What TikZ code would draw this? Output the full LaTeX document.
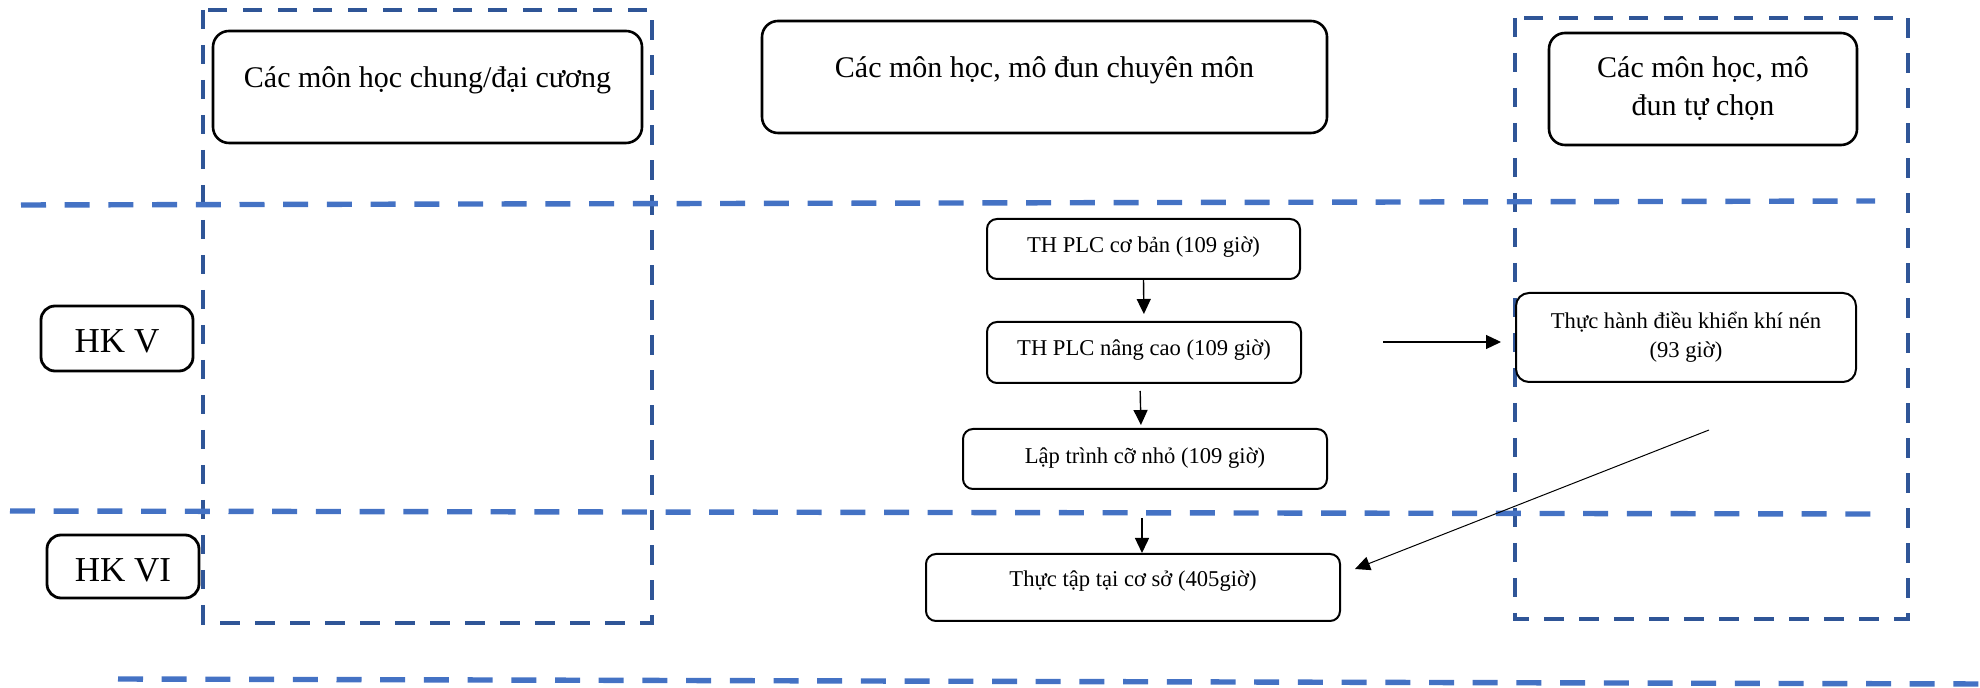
\documentclass[tikz,border=0pt]{standalone}
\usepackage{fontspec}
\setmainfont{Liberation Serif}
\usetikzlibrary{arrows.meta}
\definecolor{lblue}{HTML}{4472C4}
\definecolor{dblue}{HTML}{2F5597}
\begin{document}
\begin{tikzpicture}[x=0.5pt,y=-0.5pt,
  hbox/.style={draw=black, line width=1.3pt, rounded corners=8pt, inner sep=0pt, align=center,
               minimum height=56pt, font=\fontsize{15}{19}\selectfont},
  hkbox/.style={draw=black, line width=1.4pt, rounded corners=7pt, inner sep=0pt,
               minimum width=76pt, text depth=0pt, font=\fontsize{17.5}{21}\selectfont},
  cbox/.style={draw=black, line width=1pt, rounded corners=5pt, inner sep=0pt, align=center,
               font=\fontsize{11.3}{14.25}\selectfont},
  arr/.style={line width=0.7pt, -{Triangle[length=7.5pt,width=7pt]}},
  lline/.style={lblue, line width=2.7pt, dash pattern=on 12.5pt off 9.35pt},
  dbox/.style={dblue, line width=2.4pt, dash pattern=on 9.75pt off 7.75pt}]
\useasboundingbox (0,0) rectangle (1980,688);

% dark dashed column frames
\draw[dbox] (203,10) rectangle (652,623);
\draw[dbox] (1515,18) rectangle (1908,619);

% light dashed semester separators
\draw[lline] (21,205) -- (1875,201);
\draw[lline] (10,511) -- (1872,514);
\draw[lline] (118,679) -- (1984,684);

% headers
\node[hbox, minimum width=214.5pt, text height=10pt, text depth=9pt] (h1) at (427.5,87) {Các môn học chung/đại cương};
\node[hbox, minimum width=282.5pt, text height=10pt, text depth=9pt] (h2) at (1044.5,77) {Các môn học, mô đun chuyên môn};
\node[hbox, minimum width=154pt] (h3) at (1703,89) {Các môn học, mô\\đun tự chọn};

% semester labels
\node[hkbox, minimum height=32.5pt, text height=14pt] (hk5) at (117,338.5) {HK V};
\node[hkbox, minimum height=31.5pt, text height=15pt] (hk6) at (123,566.5) {HK VI};

% course boxes
\node[cbox, minimum width=156.5pt, minimum height=30pt, text height=8pt, text depth=4pt] (b1) at (1143.5,249) {TH PLC cơ bản (109 giờ)};
\node[cbox, minimum width=157pt, minimum height=30.5pt, text height=7.75pt, text depth=4.25pt] (b2) at (1144,352.5) {TH PLC nâng cao (109 giờ)};
\node[cbox, minimum width=182pt, minimum height=30pt, text height=8pt, text depth=3.75pt] (b3) at (1145,459) {Lập trình cỡ nhỏ (109 giờ)};
\node[cbox, minimum width=207pt, minimum height=33.5pt, text height=6pt, text depth=6.5pt] (b4) at (1133,587.5) {Thực tập tại cơ sở (405giờ)};
\node[cbox, rounded corners=6.5pt, minimum width=170pt, minimum height=44.5pt] (b5) at (1686,337.5) {Thực hành điều khiển khí nén\\(93 giờ)};

% connectors
\coordinate (a3s) at (1142,518);
\coordinate (h0) at (1383,342);
\coordinate (d0) at (1709,430);
\draw[arr, shorten >=3.5pt] (b1.south) -- (b2.north);
\draw[arr, shorten <=3.5pt, shorten >=1.5pt] ([xshift=-2pt]b2.south) -- ([xshift=-2pt]b3.north);
\draw[arr] (a3s) -- (a3s |- b4.north);
\draw[arr, line width=0.6pt, shorten >=7pt] (h0) -- (h0 -| b5.west);
\draw[arr, line width=0.5pt] (d0) -- ([xshift=7pt,yshift=9.25pt]b4.east);
\end{tikzpicture}
\end{document}
